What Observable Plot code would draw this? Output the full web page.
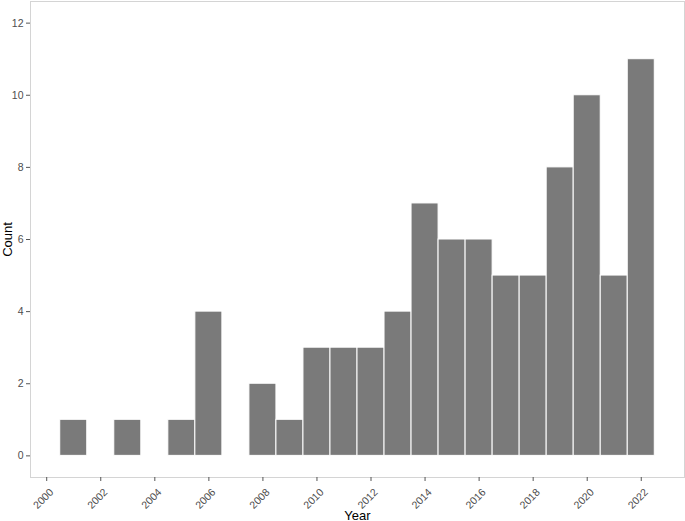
<!DOCTYPE html>
<html>
<head>
<meta charset="utf-8">
<script src="https://cdn.jsdelivr.net/npm/d3@7"></script>
<script src="https://cdn.jsdelivr.net/npm/@observablehq/plot@0.6"></script>
<style>
  html, body { margin: 0; padding: 0; background: #fff; }
  svg { display: block; }
</style>
</head>
<body>
<div id="chart"></div>
<script>
const years = [2001, 2002, 2003, 2004, 2005, 2006, 2007, 2008, 2009, 2010, 2011,
               2012, 2013, 2014, 2015, 2016, 2017, 2018, 2019, 2020, 2021, 2022];
const counts = [1, 0, 1, 0, 1, 4, 0, 2, 1, 3, 3,
                3, 4, 7, 6, 6, 5, 5, 8, 10, 5, 11];
const xTicks = [2000, 2002, 2004, 2006, 2008, 2010, 2012, 2014, 2016, 2018, 2020, 2022];
const yTicks = [0, 2, 4, 6, 8, 10, 12];

const data = years.map((y, i) => ({year: y, count: counts[i]}));

const chart = Plot.plot({
  width: 685,
  height: 521,
  marginLeft: 30,
  marginRight: 1,
  marginTop: 1,
  marginBottom: 44,
  style: {fontFamily: "'Liberation Sans', Arial, sans-serif", background: "#fff"},
  x: {domain: [1999.4, 2023.6]},
  y: {domain: [-0.6, 12.6]},
  marks: [
    Plot.rectY(data, {
      x1: d => d.year - 0.5,
      x2: d => d.year + 0.5,
      y1: 0,
      y2: "count",
      fill: "#7a7a7a",
      stroke: "#ffffff",
      strokeWidth: 1
    }),
    Plot.frame({stroke: "#d4d4d4", strokeWidth: 1}),
    Plot.axisX({
      ticks: xTicks,
      tickFormat: d => String(d),
      tickSize: 4,
      tickRotate: -45,
      tickPadding: 2,
      fontSize: 10.5,
      color: "#4d4d4d",
      stroke: "#555",
      label: "Year",
      labelAnchor: "center",
      labelArrow: "none",
      labelOffset: 42
    }),
    Plot.axisY({
      ticks: yTicks,
      tickSize: 4,
      tickPadding: 3,
      fontSize: 10.5,
      color: "#4d4d4d",
      stroke: "#555",
      label: "Count",
      labelAnchor: "center",
      labelArrow: "none",
      labelOffset: 28
    })
  ]
});

document.getElementById("chart").appendChild(chart);
// axis titles darker and larger, like the reference
chart.querySelectorAll("g[aria-label='x-axis label'] text, g[aria-label='y-axis label'] text").forEach(t => {
  t.setAttribute("fill", "#000");
  t.setAttribute("font-size", "13");
});
// rotated x tick labels hang below the tick (top-right corner at the tick)
const xt = chart.querySelector("g[aria-label='x-axis tick label']");
if (xt) {
  const prev = xt.getAttribute("transform") || "";
  xt.setAttribute("transform", "translate(5,7) " + prev);
}
</script>
</body>
</html>
